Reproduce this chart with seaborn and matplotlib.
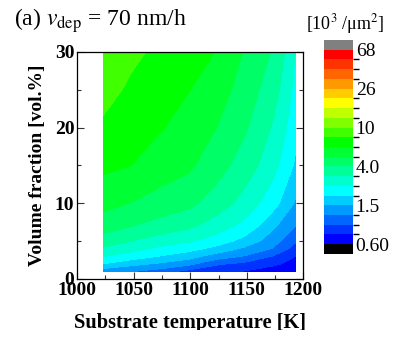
import numpy as np
import matplotlib
matplotlib.use("Agg")
import matplotlib.pyplot as plt
from matplotlib.colors import ListedColormap, BoundaryNorm
from matplotlib.ticker import MultipleLocator
from matplotlib.patches import Rectangle
import seaborn as sns

sns.set_theme(style="ticks")
plt.rcParams['font.family'] = ['Liberation Serif', 'DejaVu Serif']
plt.rcParams['mathtext.fontset'] = 'stix'
plt.rcParams['text.color'] = 'black'
plt.rcParams['axes.labelcolor'] = 'black'
plt.rcParams['xtick.color'] = 'black'
plt.rcParams['ytick.color'] = 'black'

# substrate temperature [K] and volume fraction [vol.%] grid
temperature = [1023, 1048, 1073, 1098, 1123, 1148, 1173, 1193]
volume_fraction = [1, 2, 3, 4, 5, 7, 10, 15, 20, 25, 30]

# density [10^3 /um^2], one row per volume fraction
density = [
    [1.30, 1.23, 1.08, 0.88, 0.80, 0.75, 0.66, 0.62],
    [1.96, 1.65, 1.49, 1.30, 1.00, 0.90, 0.80, 0.69],
    [2.50, 2.21, 1.94, 1.71, 1.37, 1.20, 0.95, 0.76],
    [3.03, 2.67, 2.36, 2.13, 1.82, 1.47, 1.20, 0.86],
    [3.56, 3.14, 2.79, 2.56, 2.20, 1.79, 1.34, 0.99],
    [4.42, 4.02, 3.60, 3.29, 2.81, 2.30, 1.62, 1.22],
    [5.41, 5.00, 4.59, 4.23, 3.55, 2.87, 2.14, 1.50],
    [6.71, 6.39, 5.65, 5.26, 4.39, 3.56, 2.69, 1.88],
    [7.77, 7.07, 6.50, 5.87, 5.05, 4.11, 3.06, 2.11],
    [8.80, 7.75, 7.10, 6.45, 5.70, 4.50, 3.49, 2.29],
    [9.80, 8.50, 7.70, 7.00, 6.35, 4.95, 3.90, 2.47],
]

# colour scale: 20 log-spaced bands from 0.60 to 68
level_min, level_max, n_bands = 0.60, 68, 20
tick_labels = ['0.60', '1.5', '4.0', '10', '26', '68']
band_colors = ['#0000ff', '#0033ff', '#0066ff', '#0099ff', '#00ccff',
               '#00ffff', '#00ffcc', '#00ff99', '#00ff66', '#00ff33',
               '#00ff00', '#40ff00', '#80ff00', '#c0ff00', '#ffff00',
               '#ffcc00', '#ff9900', '#ff6600', '#ff3300', '#ff0000']

levels = np.logspace(np.log10(level_min), np.log10(level_max), n_bands + 1)
cmap = ListedColormap(band_colors)
cmap.set_under('black')
cmap.set_over('#808080')
norm = BoundaryNorm(levels, cmap.N)

fig = plt.figure(figsize=(3.93, 3.39), dpi=100)
ax = fig.add_axes([0.196, 0.177, 0.576, 0.670])
cax = fig.add_axes([0.824, 0.251, 0.074, 0.631])

cs = ax.contourf(temperature, volume_fraction, np.array(density),
                 levels=levels, cmap=cmap, norm=norm, extend='both')

ax.set_xlim(1000, 1200)
ax.set_ylim(0, 30)
ax.xaxis.set_major_locator(MultipleLocator(50))
ax.xaxis.set_minor_locator(MultipleLocator(25))
ax.yaxis.set_major_locator(MultipleLocator(10))
ax.yaxis.set_minor_locator(MultipleLocator(5))
ax.tick_params(which='both', direction='in', right=True, top=False,
               labelsize=14, pad=2, width=0.8, color='#333333')
ax.tick_params(which='major', length=5)
ax.tick_params(which='minor', length=3)
for lab in ax.get_xticklabels() + ax.get_yticklabels():
    lab.set_fontweight('bold')
for sp in ax.spines.values():
    sp.set_linewidth(0.9)
    sp.set_color('black')
ax.set_xlabel('Substrate temperature [K]', fontsize=14.7, fontweight='bold', labelpad=10)
ax.set_ylabel('Volume fraction [vol.%]', fontsize=14, fontweight='bold', labelpad=6)

cb = fig.colorbar(cs, cax=cax, ticks=levels[::4], extendrect=True)
cb.set_ticklabels(tick_labels)
cb.outline.set_visible(False)
cb.ax.tick_params(length=0, labelsize=14, pad=2)

fig.text(0.035, 0.94, r'(a) $v_{\rm dep}$ = 70 nm/h', fontsize=17, va='center')
fig.text(0.878, 0.93, r'[10$^3$ /μm$^2$]', fontsize=13, ha='center', va='center')

# the original figure is cropped just below the x label
fig.add_artist(Rectangle((0, 0), 1, 9 / 339, transform=fig.transFigure,
                         facecolor='white', edgecolor='none', zorder=10))

fig.savefig('out.png', dpi=100)
